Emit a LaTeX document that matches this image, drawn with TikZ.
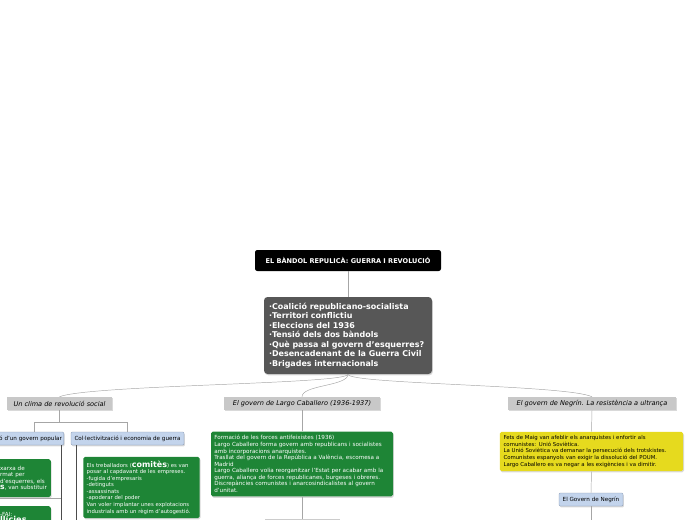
\documentclass[tikz,border=0pt]{standalone}
\usepackage{fontspec}
\setmainfont{DejaVu Sans}
\usetikzlibrary{calc,shadows}
\definecolor{mapgreen}{HTML}{1E8536}
\definecolor{mapyellow}{HTML}{E6DA1E}
\definecolor{mapblue}{HTML}{C3D4EC}
\definecolor{mapblueln}{HTML}{8597B3}
\definecolor{mapgray}{HTML}{C8C8C8}
\definecolor{mapdark}{HTML}{575757}
\tikzset{
  shd/.style={drop shadow={shadow xshift=.25mm,shadow yshift=-.4mm,opacity=.3}},
  rootbox/.style={fill=black,text=white,rounded corners=2pt,font=\fontsize{5.6}{6}\selectfont\bfseries,minimum width=55.8mm,minimum height=6.3mm,inner sep=0pt},
  mainbox/.style={shd,fill=mapdark,text=white,rounded corners=3pt,font=\fontsize{6.8}{8.1}\selectfont\bfseries,align=left,text width=47.4mm,inner xsep=1.5mm,minimum height=23.1mm},
  topicbox/.style={shd,fill=mapgray,font=\fontsize{5.6}{6}\selectfont\itshape,minimum height=3.9mm,inner sep=0pt},
  subbox/.style={shd,fill=mapblue,draw=mapblueln,line width=.3pt,rounded corners=1pt,font=\fontsize{4.8}{5}\selectfont,minimum height=3.9mm,inner sep=0pt},
  grnbox/.style={shd,fill=mapgreen,text=white,rounded corners=1.5pt,font=\fontsize{4.8}{5.6}\selectfont,align=left,inner xsep=1mm},
  ylwbox/.style={shd,fill=mapyellow,rounded corners=1.5pt,font=\fontsize{4.6}{5.6}\selectfont,align=left,inner xsep=1.1mm},
  link/.style={draw=black!35,line width=.4pt},
  stem/.style={draw=black!70,line width=.6pt}
}
\begin{document}
\begin{tikzpicture}[x=0.3mm,y=-0.3mm]
  \useasboundingbox (0,0) rectangle (696,520);
  \clip (0,0) rectangle (696,520);

  % Root and central topic
  \node[rootbox] (root) at (348,260.5) {EL BÀNDOL REPULICÀ: GUERRA I REVOLUCIÓ};
  \node[mainbox] (main) at (348,335.5) {·Coalició republicano-socialista\\·Territori conflictiu\\·Eleccions del 1936\\·Tensió dels dos bàndols\\·Què passa al govern d'esquerres?\\·Desencadenant de la Guerra Civil\\·Brigades internacionals};
  \draw[link] (root.south) -- (main.north);

  % Main topics
  \node[topicbox,minimum width=31.5mm] (clima) at (59.5,403.5) {Un clima de revolució social};
  \node[topicbox,minimum width=46.8mm] (largo) at (302,403.5) {El govern de Largo Caballero (1936-1937)};
  \node[topicbox,minimum width=50.4mm] (negrin) at (592,403.5) {El govern de Negrín. La resistència a ultrança};
  \draw[link] (main.south) .. controls +(0,10) and +(30,-12) .. (clima.north);
  \draw[link] (main.south) .. controls +(0,12) and +(0,-12) .. (largo.north);
  \draw[link] (main.south) .. controls +(0,10) and +(-25,-12) .. (negrin.north);

  % Un clima de revolucio social
  \node[subbox,anchor=east,text width=21mm,align=right,inner xsep=.6mm] (govpop) at (64,438.5) {ó d'un govern popular};
  \node[subbox,minimum width=33.9mm] (collect) at (127.5,438.5) {Col·lectivització i economia de guerra};
  \draw[link] (clima.south) -- ++(0,12) coordinate (jclima);
  \draw[link] (jclima) -| (collect.north);
  \draw[link] (jclima) -| ($(govpop.north east)+(-30,0)$);
  \draw[stem] ($(govpop.south east)+(-3,0)$) -- ++(0,80);
  \draw[stem] ($(collect.south west)+(6,0)$) -- ++(0,80);

  \node[grnbox,anchor=north east,text width=14.2mm,minimum height=11.4mm] (xarxa) at (51,459) {xarxa de\\rmat per\\d'esquerres, els\\{\fontsize{6.5}{5.6}\selectfont\bfseries s}, van substituir};
  \node[grnbox,anchor=north east,text width=14.2mm,minimum height=9mm,text depth=12pt] (fai) at (51,506) {-FAI:\\{\fontsize{7}{7}\selectfont\bfseries llícies}};
  \draw[link] ($(xarxa.south west)+(0,1)$) -- ($(xarxa.south east)+(10,1)$);

  \node[grnbox,text width=32.9mm,minimum height=17.7mm,font=\fontsize{4.55}{5.6}\selectfont] (comites) at (141.5,487.5) {Els treballadors ({\fontsize{6.8}{5.6}\selectfont\bfseries comitès}) es van\\posar al capdavant de les empreses.\\-fugida d'empresaris\\-detinguts\\-assassinats\\-apoderar del poder\\Van voler implantar unes explotacions\\industrials amb un règim d'autogestió.};
  \draw[link] ($(comites.south west)+(-7,2)$) -- ($(comites.south east)+(1,2)$);

  % Largo Caballero
  \node[grnbox,text width=52.6mm,minimum height=18.6mm] (forces) at (302,464) {Formació de les forces antifeixistes (1936)\\Largo Caballero forma govern amb republicans i socialistes\\amb incorporacions anarquistes.\\Trasllat del govern de la República a València, escomesa a\\Madrid\\Largo Caballero volia reorganitzar l'Estat per acabar amb la\\guerra, aliança de forces republicanes, burgeses i obreres.\\Discrepàncies comunistes i anarcosindicalistes al govern\\d'unitat.};
  \draw[link] (largo.south) -- (forces.north);
  \draw[link] (forces.south) -- ++(0,30);
  \coordinate (nextl) at (265,519);
  \coordinate (nextr) at (340,519);
  \draw[link,draw=black!20] (nextl) -- (nextr);

  % Negrin
  \node[ylwbox,text width=52.8mm,minimum height=11.1mm] (maig) at (591.5,451.5) {Fets de Maig van afeblir els anarquistes i enfortir als\\comunistes: Unió Soviètica.\\La Unió Soviètica va demanar la persecució dels trotskistes.\\Comunistes espanyols van exigir la dissolució del POUM.\\Largo Caballero es va negar a les exigències i va dimitir.};
  \node[subbox,minimum width=19.2mm] (govneg) at (591,499.5) {El Govern de Negrín};
  \draw[link] (negrin.south) -- (maig.north);
  \draw[link] (maig.south) -- (govneg.north);
  \draw[link] (govneg.south) -- ++(0,20);
\end{tikzpicture}
\end{document}
